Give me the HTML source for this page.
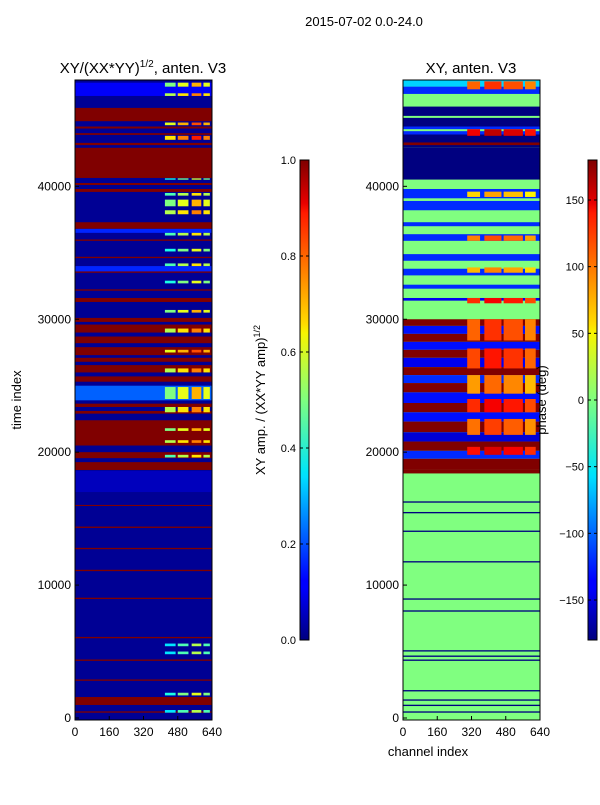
<!DOCTYPE html>
<html><head><meta charset="utf-8"><style>
body{margin:0;background:#fff;}
svg text{font-family:"Liberation Sans",sans-serif;fill:#000;}
</style></head><body>
<svg id="fig" width="600" height="800" xmlns="http://www.w3.org/2000/svg">
<defs>
<linearGradient id="jet" x1="0" y1="1" x2="0" y2="0">
<stop offset="0" stop-color="#00007f"/><stop offset="0.11" stop-color="#0000ff"/><stop offset="0.125" stop-color="#0000ff"/>
<stop offset="0.34" stop-color="#00dfff"/><stop offset="0.35" stop-color="#00e5f8"/><stop offset="0.5" stop-color="#7fff7f"/>
<stop offset="0.64" stop-color="#f8f500"/><stop offset="0.66" stop-color="#ffdb00"/><stop offset="0.89" stop-color="#ff1a00"/>
<stop offset="0.91" stop-color="#e80000"/><stop offset="1" stop-color="#7f0000"/></linearGradient>
</defs>
<text x="364" y="26" text-anchor="middle" font-size="13">2015-07-02 0.0-24.0</text>
<g id="left"></g>
<g id="right"></g>
<text x="143" y="73" text-anchor="middle" font-size="15">XY/(XX*YY)<tspan font-size="10" dy="-6">1/2</tspan><tspan dy="6">, anten. V3</tspan></text>
<text x="471" y="73" text-anchor="middle" font-size="15">XY, anten. V3</text>
<text transform="translate(21,400) rotate(-90)" text-anchor="middle" font-size="13">time index</text>
<text x="428" y="756" text-anchor="middle" font-size="13">channel index</text>
<text transform="translate(265,400) rotate(-90)" text-anchor="middle" font-size="13">XY amp. / (XX*YY amp)<tspan font-size="9" dy="-5">1/2</tspan></text>
<text transform="translate(546,400) rotate(-90)" text-anchor="middle" font-size="13">phase (deg)</text>
</svg>
<script>
const ampStart=[45900,44500,44000,43270,42900,40250,39800,37300,36000,34700,33600,32250,31600,30100,29600,28700,27900,27100,26550,25700,24850,23650,23100,22400,20000,19250,16030,14400,12800,11150,9050,6100,4400,2900,1580,500,25000,36800,34000,47800,18600];
const ampEnd  =[44900,44350,43870,43100,40630,40100,39580,36800,35900,34600,33500,32150,31300,29800,29000,28200,27300,26800,26000,25300,24750,23400,22900,20500,19550,18660,15950,14300,12700,11050,8950,6000,4300,2800,980,400,23900,36500,33600,46800,17000];
const ampVal  =[1,1,1,1,1,1,1,1,1,1,1,1,1,1,1,1,1,1,1,1,1,1,1,1,1,1,1,1,1,1,1,1,1,1,1,1,0.22,0.16,0.16,0.12,0.06];
const hotStart=[47800,47000,44800,43800,40600,39500,39000,38200,36500,35300,34200,32900,30700,29300,27700,26300,24900,23400,21800,20900,19800,5600,5000,1900,600];
const hotEnd  =[47500,46800,44600,43500,40500,39300,38500,37900,36300,35100,34000,32700,30500,29000,27500,26000,24000,23000,21600,20700,19600,5400,4800,1700,400];
const hotVal  =[0.55,0.6,0.65,0.7,0.45,0.5,0.55,0.6,0.5,0.45,0.5,0.45,0.55,0.6,0.65,0.6,0.55,0.6,0.55,0.6,0.5,0.4,0.4,0.45,0.4];
const phStart=[48000,47500,46950,46000,44500,43300,42900,40500,39800,38900,37300,36400,34900,33800,32600,31600,30000,29500,28900,28300,27700,27100,26400,25800,25200,24500,23700,23000,22300,21500,20800,20100,19500,18700,16300,15500,14100,11800,9000,8100,5100,4700,4400,2100,1400,1000,500,45300,44300];
const phEnd  =[47500,46950,46000,42900,43900,43100,40500,39800,39100,38200,37000,35900,34400,33300,32300,31400,29500,28900,28300,27700,27100,26400,25800,25200,24500,23700,23000,22300,21500,20800,20100,19500,18700,18400,16200,15400,14000,11700,8900,8000,5000,4600,4300,2000,1300,900,400,45150,44150];
const phVal  =[-60,-120,0,-180,-120,180,-180,0,-120,-120,-120,-120,-120,-120,-120,-140,180,-130,180,-130,180,-140,180,-120,180,-130,180,-130,180,-150,180,-120,180,180,-180,-180,-180,-180,-180,-180,-180,-180,-180,-180,-180,-180,-180,0,0];
const phHotStart=[47900,44300,39600,36300,33900,31600,30000,27800,25800,24000,22500,20400];
const phHotEnd  =[47300,43800,39200,35900,33500,31200,28400,26300,24400,23000,21300,19800];
const phHotVal  =[100,140,60,90,70,120,100,110,80,120,95,130];
const xTicks=[0,160,320,480,640];
const yTicks=[0,10000,20000,30000,40000];
const ampTicks=[0,0.2,0.4,0.6,0.8,1.0];
const phTicks=[-150,-100,-50,0,50,100,150];

function jet(v){v=Math.max(0,Math.min(1,v));
 const f=t=>Math.max(0,Math.min(1,t));
 const r=f(Math.min(4*v-1.5,-4*v+4.5)),g=f(Math.min(4*v-0.5,-4*v+3.5)),b=f(Math.min(4*v+0.5,-4*v+2.5));
 return `rgb(${Math.round(r*255)},${Math.round(g*255)},${Math.round(b*255)})`;}
const NS="http://www.w3.org/2000/svg";
function mk(p,t,a){const e=document.createElementNS(NS,t);for(const k in a)e.setAttribute(k,a[k]);p.appendChild(e);return e;}
const yTop=80,yBot=718,YMAX=48000;
const ys=v=>yBot-v*(yBot-yTop)/YMAX;
function panel(g,x0,x1,base,starts,ends,vals,norm,hs,he,hv,hotChunks){
 const xs=c=>x0+c*(x1-x0)/640;
 const bg=mk(g,'rect',{x:x0,y:yTop,width:x1-x0,height:yBot-yTop+2,fill:jet(base)});
 
 
 for(let i=0;i<starts.length;i++){
  const r=mk(g,'rect',{x:x0,y:ys(starts[i]),width:x1-x0,height:Math.max(1,ys(ends[i])-ys(starts[i])),fill:jet(norm(vals[i]))});
  
  
 }
 for(let i=0;i<hs.length;i++){
  hotChunks.forEach((ch)=>{
   const r=mk(g,'rect',{x:xs(ch[0]),y:ys(hs[i]),width:xs(ch[1])-xs(ch[0]),height:Math.max(1,ys(he[i])-ys(hs[i])),fill:jet(norm(hv[i])+ch[2])});
   
   
  });
 }
 mk(g,'rect',{x:x0,y:yTop,width:x1-x0,height:yBot-yTop+2,fill:'none',stroke:'#000','stroke-width':1});
 xTicks.forEach(t=>{const x=xs(t);mk(g,'line',{x1:x,x2:x,y1:yBot+2,y2:yBot-2,stroke:'#000'});
  const tx=mk(g,'text',{x:x,y:yBot+18,'text-anchor':'middle','font-size':12});tx.textContent=t;
  
  });
 yTicks.forEach(t=>{const y=ys(t);mk(g,'line',{x1:x0,x2:x0+4,y1:y,y2:y,stroke:'#000'});
  const tx=mk(g,'text',{x:x0-4,y:y+4,'text-anchor':'end','font-size':12});tx.textContent=t;
  
  });
}
const chunksL=[[420,470,-0.05],[480,530,0.05],[545,590,0.15],[600,630,0.05]];
const chunksR=[[300,360,0],[380,460,0.05],[470,560,0.02],[570,620,-0.03]];
panel(document.getElementById('left'),75,212,0.02,ampStart,ampEnd,ampVal,v=>v,hotStart,hotEnd,hotVal,chunksL);
panel(document.getElementById('right'),403,540,0.5,phStart,phEnd,phVal,v=>(v+180)/360,phHotStart,phHotEnd,phHotVal,chunksR);
function cbar(x,ticks,lo,hi,fmt,name){
 const g=mk(document.getElementById('fig'),'g',{});
 
 
 const y0=160,y1=640;
 mk(g,'rect',{x:x,y:y0,width:9,height:y1-y0,fill:'url(#jet)',stroke:'#000','stroke-width':1});
 ticks.forEach(t=>{const y=y1-(t-lo)/(hi-lo)*(y1-y0);
  mk(g,'line',{x1:x,x2:x+3,y1:y,y2:y,stroke:'#000'});mk(g,'line',{x1:x+6,x2:x+9,y1:y,y2:y,stroke:'#000'});
  const tx=mk(g,'text',{x:x-4,y:y+4,'text-anchor':'end','font-size':11});tx.textContent=fmt(t);
  
  });
}
cbar(300,ampTicks,0,1,t=>t.toFixed(1),'amp-colorbar');
cbar(588,phTicks,-180,180,t=>t<0?'\u2212'+(-t):String(t),'phase-colorbar');
</script>
</body></html>
